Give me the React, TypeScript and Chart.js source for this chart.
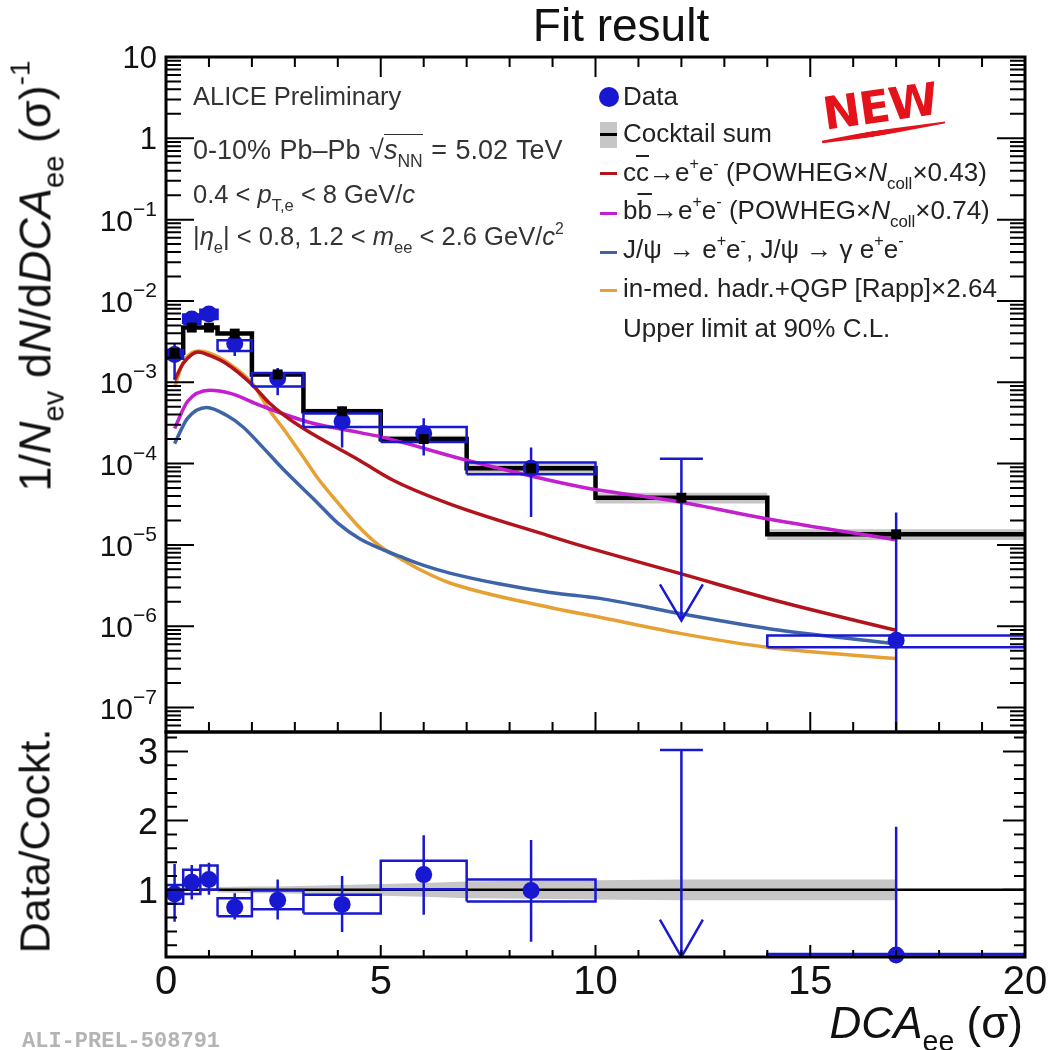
import React, { useEffect, useRef } from 'react';
import { Chart, registerables } from 'chart.js';

Chart.register(...registerables);

// ---------------- data ----------------
const binEdges = [0, 0.4, 0.8, 1.2, 2.0, 3.2, 5.0, 7.0, 10.0, 14.0, 20.0];
const binCenters = [0.2, 0.6, 1.0, 1.6, 2.6, 4.1, 6.0, 8.5, 12.0, 17.0];
const cocktailSum = [2.3e-3, 4.7e-3, 4.7e-3, 3.97e-3, 1.25e-3, 4.4e-4, 2.0e-4, 8.75e-5, 3.8e-5, 1.35e-5];
const cocktailRelUnc = [0.04, 0.04, 0.04, 0.04, 0.05, 0.07, 0.1, 0.13, 0.15, 0.15];

const dataBin = [0, 1, 2, 3, 4, 5, 6, 7, 9];
const dataX = [0.2, 0.6, 1.0, 1.6, 2.6, 4.1, 6.0, 8.5, 17.0];
const dataY = [2.2e-3, 6.0e-3, 6.9e-3, 3.0e-3, 1.12e-3, 3.3e-4, 2.35e-4, 8.75e-5, 6.7e-7];
const dataStatLo = [1.1e-3, 5.3e-3, 6.1e-3, 2.1e-3, 6.9e-4, 1.58e-4, 1.26e-4, 2.2e-5, 1e-9];
const dataStatHi = [3.0e-3, 6.8e-3, 7.8e-3, 3.6e-3, 1.5e-3, 5.0e-4, 3.6e-4, 1.58e-4, 2.5e-5];
const dataSysLo = [1.95e-3, 5.2e-3, 6.0e-3, 2.43e-3, 8.9e-4, 2.82e-4, 1.84e-4, 7.4e-5, 5.5e-7];
const dataSysHi = [2.5e-3, 6.8e-3, 7.8e-3, 3.29e-3, 1.3e-3, 4.12e-4, 2.82e-4, 1.03e-4, 7.7e-7];

const ulX = 12.0;
const ulHalf = 0.5;
const ulTop = 1.15e-4;
const ulTip = 1.17e-6;
const ulHead = 3.27e-6;

const ccX = [0.2, 0.4, 0.75, 1.0, 1.4, 2.0, 2.4, 2.73, 3.2, 4.5, 5.3, 6.6, 8.9, 9.6, 12.0, 14.3, 17.0];
const ccY = [1.06e-3, 1.7e-3, 2.36e-3, 2.15e-3, 1.7e-3, 9.4e-4, 5.6e-4, 4.0e-4, 2.7e-4, 1.1e-4, 6.2e-5, 3.2e-5, 1.3e-5, 1.0e-5, 4.4e-6, 2.0e-6, 8.9e-7];
const bbX = [0.2, 0.5, 1.02, 1.5, 2.19, 3.35, 4.52, 5.06, 7.0, 9.64, 11.97, 13.98, 16.97];
const bbY = [2.7e-4, 5.8e-4, 8.0e-4, 7.3e-4, 5.2e-4, 3.2e-4, 2.4e-4, 2.1e-4, 1.1e-4, 5.2e-5, 3.37e-5, 2.1e-5, 1.16e-5];
const jpsiX = [0.2, 0.5, 0.95, 1.4, 1.8, 2.2, 2.73, 3.5, 4.0, 4.5, 5.06, 5.45, 6.0, 6.61, 7.78, 8.94, 10.1, 12.0, 14.3, 17.0];
const jpsiY = [1.76e-4, 3.6e-4, 4.9e-4, 3.95e-4, 2.8e-4, 1.7e-4, 8.5e-5, 3.4e-5, 1.85e-5, 1.2e-5, 8.7e-6, 7.2e-6, 5.6e-6, 4.5e-6, 3.3e-6, 2.6e-6, 2.2e-6, 1.42e-6, 8.9e-7, 6.1e-7];
const rappX = [0.2, 0.4, 0.75, 1.0, 1.4, 2.0, 2.4, 2.8, 3.3, 3.5, 4.0, 4.5, 5.0, 5.45, 6.0, 6.61, 8.94, 10.1, 12.0, 14.0, 17.0];
const rappY = [8.7e-4, 1.75e-3, 2.42e-3, 2.3e-3, 1.8e-3, 9.8e-4, 4.6e-4, 2.4e-4, 1.0e-4, 7.0e-5, 3.3e-5, 1.65e-5, 9.5e-6, 6.8e-6, 4.7e-6, 3.4e-6, 1.7e-6, 1.29e-6, 8.1e-7, 5.5e-7, 4.0e-7];

const ratioY = [0.94, 1.11, 1.15, 0.75, 0.85, 0.79, 1.22, 0.99, 0.06];
const ratioStatLo = [0.54, 0.86, 0.93, 0.57, 0.57, 0.39, 0.64, 0.25, 0.0];
const ratioStatHi = [1.375, 1.36, 1.39, 0.95, 1.15, 1.2, 1.79, 1.72, 1.91];
const ratioSysLo = [0.8, 0.94, 1.0, 0.62, 0.72, 0.66, 1.01, 0.83, 0.035];
const ratioSysHi = [1.07, 1.29, 1.35, 0.88, 0.99, 0.93, 1.42, 1.15, 0.075];
const ratioUlTop = 3.02;
const ratioUlTip = 0.03;
const ratioUlHead = 0.57;
const ratioBandX = [1.2, 2.0, 2.6, 4.1, 6.0, 7.0, 8.5, 10.0, 12.0, 14.0, 17.0];
const ratioBandHalf = [0.04, 0.05, 0.05, 0.07, 0.1, 0.12, 0.13, 0.14, 0.15, 0.15, 0.15];

const xTickValues = [0, 5, 10, 15, 20];
const xTickLabels = ['0', '5', '10', '15', '20'];
const yTopExponents = [1, 0, -1, -2, -3, -4, -5, -6, -7];
const yRatioTicks = [1, 2, 3];

// ---------------- styles ----------------
const FONT = '"Liberation Sans", Arial, Helvetica, sans-serif';
const BLUE = '#1818d0';
const RED = '#b3141c';
const MAGENTA = '#c21fcf';
const STEEL = '#3c64a6';
const ORANGE = '#e6a033';
const GREY = '#c6c6c6';

type P = { x: number; y: number | null };

function polylines(lines: [number, number][][]): P[] {
  const out: P[] = [];
  lines.forEach((ln, i) => {
    if (i > 0) out.push({ x: ln[0][0], y: null });
    ln.forEach(([x, y]) => out.push({ x, y }));
  });
  return out;
}

function lineDs(data: P[], color: string, width: number, order: number, extra: any = {}) {
  return {
    data,
    borderColor: color,
    backgroundColor: color,
    borderWidth: width,
    pointRadius: 0,
    pointHitRadius: 0,
    fill: false,
    tension: 0,
    order,
    ...extra,
  };
}

function curve(xs: number[], ys: number[], color: string) {
  return lineDs(xs.map((x, i) => ({ x, y: ys[i] })), color, 3.5, 50, { cubicInterpolationMode: 'monotone' });
}

function boxes(lo: number[], hi: number[]): P[] {
  return polylines(
    dataBin.map((b, i) => {
      const x0 = binEdges[b];
      const x1 = binEdges[b + 1];
      return [[x0, lo[i]], [x1, lo[i]], [x1, hi[i]], [x0, hi[i]], [x0, lo[i]]] as [number, number][];
    })
  );
}

function errBars(lo: number[], hi: number[]): P[] {
  return polylines(dataX.map((x, i) => [[x, lo[i]], [x, hi[i]]] as [number, number][]));
}

function upperLimit(top: number, tip: number, head: number): P[] {
  return polylines([
    [[ulX, top], [ulX, tip]],
    [[ulX - ulHalf, top], [ulX + ulHalf, top]],
    [[ulX - ulHalf, head], [ulX, tip], [ulX + ulHalf, head]],
  ]);
}

function stepData(vals: number[]): P[] {
  const pts: P[] = vals.map((v, i) => ({ x: binEdges[i], y: v }));
  pts.push({ x: binEdges[binEdges.length - 1], y: vals[vals.length - 1] });
  return pts;
}

// ---------------- axis plugins ----------------
function drawTop(chart: any) {
  const { ctx, chartArea: a } = chart;
  const xs = chart.scales.x;
  const ys = chart.scales.y;
  ctx.save();
  ctx.strokeStyle = '#000';
  ctx.lineWidth = 2;
  ctx.beginPath();
  for (let v = 0; v <= 20; v += 1) {
    const px = xs.getPixelForValue(v);
    const len = v % 5 === 0 ? 20 : 10;
    ctx.moveTo(px, a.bottom);
    ctx.lineTo(px, a.bottom - len);
    ctx.moveTo(px, a.top);
    ctx.lineTo(px, a.top + len);
  }
  for (let d = -9; d <= 2; d++) {
    for (let m = 1; m <= 9; m++) {
      const v = m * Math.pow(10, d);
      if (v < ys.min * 0.999 || v > ys.max * 1.001) continue;
      const py = ys.getPixelForValue(v);
      const len = m === 1 ? 28 : 15;
      ctx.moveTo(a.left, py);
      ctx.lineTo(a.left + len, py);
      ctx.moveTo(a.right, py);
      ctx.lineTo(a.right - len, py);
    }
  }
  ctx.stroke();
  ctx.lineWidth = 3;
  ctx.strokeRect(a.left, a.top, a.right - a.left, a.bottom - a.top);

  ctx.fillStyle = '#111';
  ctx.textBaseline = 'alphabetic';
  const xr = a.left - 9;
  for (const e of yTopExponents) {
    const py = ys.getPixelForValue(Math.pow(10, e));
    if (e === 1 || e === 0) {
      ctx.font = `31px ${FONT}`;
      ctx.textAlign = 'right';
      ctx.fillText(e === 1 ? '10' : '1', xr, py + 11);
    } else {
      const sup = '\u2212' + Math.abs(e);
      ctx.font = `21px ${FONT}`;
      const sw = ctx.measureText(sup).width;
      ctx.textAlign = 'left';
      ctx.fillText(sup, xr - sw, py - 4);
      ctx.font = `30px ${FONT}`;
      ctx.textAlign = 'right';
      ctx.fillText('10', xr - sw, py + 11);
    }
  }
  ctx.restore();
}

function drawBottom(chart: any) {
  const { ctx, chartArea: a } = chart;
  const xs = chart.scales.x;
  const ys = chart.scales.y;
  ctx.save();
  ctx.strokeStyle = '#000';
  ctx.lineWidth = 2;
  ctx.beginPath();
  for (let v = 0; v <= 20; v += 1) {
    const px = xs.getPixelForValue(v);
    const len = v % 5 === 0 ? 12 : 7;
    ctx.moveTo(px, a.bottom);
    ctx.lineTo(px, a.bottom - len);
  }
  for (let k = 1; k * 0.2 <= ys.max + 1e-9; k++) {
    const v = k * 0.2;
    if (v < ys.min) continue;
    const py = ys.getPixelForValue(v);
    const len = k % 5 === 0 ? 22 : 11;
    ctx.moveTo(a.left, py);
    ctx.lineTo(a.left + len, py);
    ctx.moveTo(a.right, py);
    ctx.lineTo(a.right - len, py);
  }
  ctx.stroke();
  ctx.lineWidth = 3;
  ctx.strokeRect(a.left, a.top, a.right - a.left, a.bottom - a.top);

  ctx.fillStyle = '#111';
  ctx.textBaseline = 'alphabetic';
  ctx.font = `36px ${FONT}`;
  ctx.textAlign = 'right';
  for (const t of yRatioTicks) {
    const py = ys.getPixelForValue(t);
    ctx.fillText(String(t), a.left - 8, py + 13);
  }
  ctx.font = `40px ${FONT}`;
  ctx.textAlign = 'center';
  xTickValues.forEach((v, i) => {
    ctx.fillText(xTickLabels[i], xs.getPixelForValue(v), a.bottom + 37);
  });
  ctx.restore();
}

const baseOptions = (padding: any, y: any) => ({
  animation: false,
  responsive: false,
  devicePixelRatio: 1,
  events: [],
  layout: { padding },
  plugins: { legend: { display: false }, tooltip: { enabled: false }, title: { display: false } },
  scales: {
    x: { type: 'linear', min: 0, max: 20, display: false },
    y: { ...y, display: false },
  },
});

function topConfig(): any {
  const bandUp = cocktailSum.map((v, i) => v * (1 + cocktailRelUnc[i]));
  const bandLo = cocktailSum.map((v, i) => v * (1 - cocktailRelUnc[i]));
  return {
    type: 'line',
    data: {
      datasets: [
        lineDs(stepData(bandUp), 'rgba(0,0,0,0)', 0, 100, { stepped: true }),
        lineDs(stepData(bandLo), 'rgba(0,0,0,0)', 0, 100, { stepped: true, fill: '-1', backgroundColor: GREY }),
        curve(ccX, ccY, RED),
        curve(bbX, bbY, MAGENTA),
        curve(jpsiX, jpsiY, STEEL),
        curve(rappX, rappY, ORANGE),
        lineDs(stepData(cocktailSum), '#000', 4.5, 60, { stepped: true }),
        lineDs(boxes(dataSysLo, dataSysHi), BLUE, 2.5, 30),
        lineDs(errBars(dataStatLo, dataStatHi), BLUE, 2.5, 20),
        lineDs(upperLimit(ulTop, ulTip, ulHead), BLUE, 2.5, 20),
        {
          data: dataX.map((x, i) => ({ x, y: dataY[i] })),
          showLine: false,
          pointRadius: 8.5,
          pointBackgroundColor: BLUE,
          pointBorderColor: BLUE,
          pointBorderWidth: 0,
          order: 10,
          clip: false,
        },
        {
          data: binCenters.map((x, i) => ({ x, y: cocktailSum[i] })),
          showLine: false,
          pointStyle: 'rect',
          pointRadius: 7,
          pointBackgroundColor: '#000',
          pointBorderColor: '#000',
          pointBorderWidth: 0,
          order: 5,
        },
      ],
    },
    options: baseOptions({ left: 166, top: 57, right: 28, bottom: 318 }, { type: 'logarithmic', min: 5e-8, max: 10 }),
    plugins: [{ id: 'topAxes', afterDraw: drawTop }],
  };
}

function bottomConfig(): any {
  return {
    type: 'line',
    data: {
      datasets: [
        lineDs(ratioBandX.map((x, i) => ({ x, y: 1 + ratioBandHalf[i] })), 'rgba(0,0,0,0)', 0, 100),
        lineDs(ratioBandX.map((x, i) => ({ x, y: 1 - ratioBandHalf[i] })), 'rgba(0,0,0,0)', 0, 100, { fill: '-1', backgroundColor: GREY }),
        lineDs([{ x: 0, y: 1 }, { x: 20, y: 1 }], '#000', 2.5, 50),
        lineDs(boxes(ratioSysLo, ratioSysHi), BLUE, 2.5, 30),
        lineDs(errBars(ratioStatLo, ratioStatHi), BLUE, 2.5, 20),
        lineDs(upperLimit(ratioUlTop, ratioUlTip, ratioUlHead), BLUE, 2.5, 20),
        {
          data: dataX.map((x, i) => ({ x, y: ratioY[i] })),
          showLine: false,
          pointRadius: 8.5,
          pointBackgroundColor: BLUE,
          pointBorderColor: BLUE,
          pointBorderWidth: 0,
          order: 10,
          clip: false,
        },
      ],
    },
    options: baseOptions({ left: 166, top: 732, right: 28, bottom: 93 }, { type: 'linear', min: 0.03, max: 3.28 }),
    plugins: [{ id: 'botAxes', afterDraw: drawBottom }],
  };
}

// ---------------- text helpers ----------------
function T(props: any) {
  const { x, y, fs, align = 'left', color = '#222', family = FONT, weight, base = 0.847, rotate, children, style } = props;
  let tr = align === 'right' ? 'translateX(-100%)' : align === 'center' ? 'translateX(-50%)' : '';
  if (rotate) tr += ` rotate(${rotate}deg)`;
  return (
    <div
      style={{
        position: 'absolute',
        left: x,
        top: y - base * fs,
        fontSize: fs,
        lineHeight: `${fs}px`,
        whiteSpace: 'nowrap',
        color,
        fontFamily: family,
        fontWeight: weight,
        transform: tr || undefined,
        ...style,
      }}
    >
      {children}
    </div>
  );
}
const Sub = ({ children }: any) => <span style={{ fontSize: '0.65em', position: 'relative', top: '0.45em' }}>{children}</span>;
const Sup = ({ children }: any) => <span style={{ fontSize: '0.62em', position: 'relative', top: '-0.75em' }}>{children}</span>;
const Bar = ({ children }: any) => <span style={{ textDecoration: 'overline' }}>{children}</span>;

function RotText({ cx, cy, fs, children }: any) {
  return (
    <div
      style={{
        position: 'absolute',
        left: cx,
        top: cy,
        fontSize: fs,
        lineHeight: `${fs}px`,
        whiteSpace: 'nowrap',
        color: '#111',
        fontFamily: FONT,
        transform: 'translate(-50%,-50%) rotate(-90deg)',
      }}
    >
      {children}
    </div>
  );
}

function Swatch({ y, color }: any) {
  return <div style={{ position: 'absolute', left: 600, top: y - 1.5, width: 17, height: 3, background: color }} />;
}

export default function App() {
  const topRef = useRef<HTMLCanvasElement>(null);
  const botRef = useRef<HTMLCanvasElement>(null);
  useEffect(() => {
    const c1 = new Chart(topRef.current as HTMLCanvasElement, topConfig());
    const c2 = new Chart(botRef.current as HTMLCanvasElement, bottomConfig());
    return () => {
      c1.destroy();
      c2.destroy();
    };
  }, []);

  const lg = 26;
  const al = 25.5;
  return (
    <div style={{ position: 'absolute', left: 0, top: 0, width: 1053, height: 1050, background: '#fff', overflow: 'hidden', fontFamily: FONT }}>
      <canvas ref={topRef} width={1053} height={1050} style={{ position: 'absolute', left: 0, top: 0 }} />
      <canvas ref={botRef} width={1053} height={1050} style={{ position: 'absolute', left: 0, top: 0 }} />

      <T x={621} y={41} fs={46} align="center" color="#111">Fit result</T>

      <RotText cx={38} cy={276} fs={45}>
        1/<i>N</i><Sub>ev</Sub> d<i>N</i>/d<i>DCA</i><Sub>ee</Sub> (σ)<Sup>-1</Sup>
      </RotText>
      <RotText cx={35} cy={841} fs={43}>Data/Cockt.</RotText>

      <T x={1023} y={1038} fs={44} align="right" color="#111">
        <i>DCA</i><Sub>ee</Sub> (σ)
      </T>

      <T x={193} y={106} fs={al} color="#333">ALICE Preliminary</T>
      <T x={193} y={160} fs={27} color="#333" style={{ wordSpacing: 1 }}>
        0-10% Pb–Pb √<span style={{ borderTop: '1.5px solid #333' }}><i>s</i><Sub>NN</Sub></span> = 5.02 TeV
      </T>
      <T x={193} y={204} fs={al} color="#333">
        0.4 &lt; <i>p</i><Sub>T,e</Sub> &lt; 8 GeV/<i>c</i>
      </T>
      <T x={193} y={246} fs={al} color="#333">
        |<i>η</i><Sub>e</Sub>| &lt; 0.8, 1.2 &lt; <i>m</i><Sub>ee</Sub> &lt; 2.6 GeV/<i>c</i><Sup>2</Sup>
      </T>

      <div style={{ position: 'absolute', left: 599, top: 87, width: 20, height: 20, borderRadius: '50%', background: BLUE }} />
      <T x={623} y={105} fs={lg}>Data</T>
      <div style={{ position: 'absolute', left: 600, top: 122, width: 17, height: 26, background: GREY }} />
      <div style={{ position: 'absolute', left: 600, top: 132.5, width: 17, height: 3, background: '#000' }} />
      <T x={623} y={142} fs={lg}>Cocktail sum</T>
      <Swatch y={173} color={RED} />
      <T x={623} y={181} fs={lg}>
        c<Bar>c</Bar>→e<Sup>+</Sup>e<Sup>-</Sup> (POWHEG×<i>N</i><Sub>coll</Sub>×0.43)
      </T>
      <Swatch y={213} color={MAGENTA} />
      <T x={623} y={219} fs={lg}>
        b<Bar>b</Bar>→e<Sup>+</Sup>e<Sup>-</Sup> (POWHEG×<i>N</i><Sub>coll</Sub>×0.74)
      </T>
      <Swatch y={252} color={STEEL} />
      <T x={623} y={258} fs={lg}>
        J/ψ → e<Sup>+</Sup>e<Sup>-</Sup>, J/ψ → γ e<Sup>+</Sup>e<Sup>-</Sup>
      </T>
      <Swatch y={290} color={ORANGE} />
      <T x={623} y={297} fs={lg}>in-med. hadr.+QGP [Rapp]×2.64</T>
      <T x={623} y={337} fs={lg}>Upper limit at 90% C.L.</T>

      <T x={880} y={122} fs={45} align="center" color="#e3121b" weight="bold" family='"DejaVu Sans", sans-serif' rotate={-8} style={{ letterSpacing: -1 }}>
        NEW
      </T>
      <div
        style={{
          position: 'absolute',
          left: 822,
          top: 139,
          width: 125,
          height: 6,
          background: '#e3121b',
          transform: 'rotate(-9deg)',
          transformOrigin: 'left center',
          clipPath: 'polygon(0 30%, 40% 0, 100% 35%, 100% 65%, 40% 100%, 0 70%)',
        }}
      />

      <T x={22} y={1048} fs={22} family='"Liberation Mono", monospace' weight="bold" color="#b4b4b4" base={0.767}>
        ALI-PREL-508791
      </T>
    </div>
  );
}
